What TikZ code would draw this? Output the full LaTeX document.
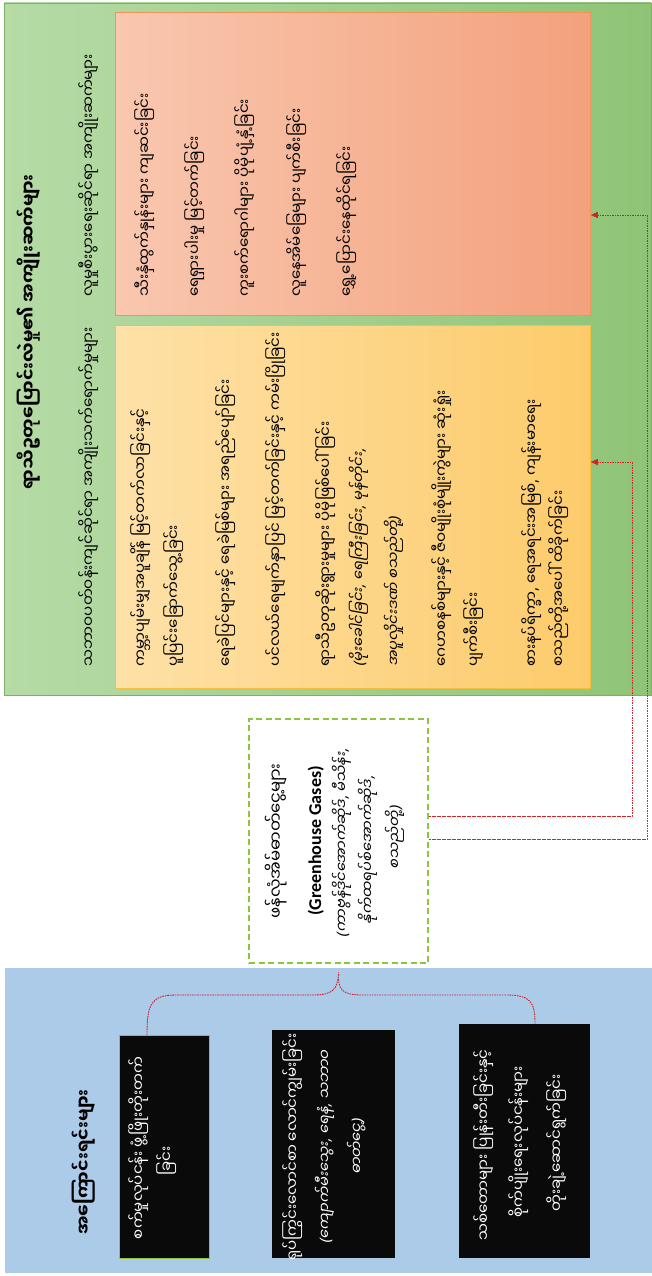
\documentclass[tikz,border=0pt]{standalone}
\usepackage{fontspec}
\newfontfamily\mmf[Script=Myanmar]{Noto Sans Myanmar UI}
\newfontfamily\mmif[Script=Myanmar,FakeSlant=0.18]{Noto Sans Myanmar UI}
\newfontfamily\latf{Carlito}
\newfontfamily\punf{Noto Sans}
\newfontfamily\punif[FakeSlant=0.18]{Noto Sans}
\newcommand{\iLP}{{\punif(}}
\newcommand{\iRP}{{\punif)}}
\newcommand{\iCM}{{\punif,}}
\usetikzlibrary{arrows.meta}
\definecolor{gpL}{RGB}{182,219,166}
\definecolor{gpR}{RGB}{143,196,118}
\definecolor{gpB}{RGB}{125,175,100}
\definecolor{orL}{RGB}{249,199,175}
\definecolor{orR}{RGB}{243,161,125}
\definecolor{orB}{RGB}{238,150,90}
\definecolor{yeL}{RGB}{254,225,168}
\definecolor{yeR}{RGB}{253,203,106}
\definecolor{yeB}{RGB}{246,190,60}
\definecolor{blP}{RGB}{171,203,233}
\definecolor{dgr}{RGB}{140,198,63}
\definecolor{rdl}{RGB}{210,35,42}
\definecolor{bxb}{RGB}{10,10,10}
\begin{document}
\begin{tikzpicture}[x=1pt,y=-1pt,
  mmbase/.style={font=\mmf\fontsize{15}{28}\selectfont, inner sep=0pt, rotate=90},
  mml/.style={mmbase, anchor=base west},
  mmc/.style={mmbase, anchor=base},
  mmil/.style={font=\mmif\fontsize{14.5}{28}\selectfont, inner sep=0pt, rotate=90, anchor=base west},
  mmic/.style={font=\mmif\fontsize{14.5}{28}\selectfont, inner sep=0pt, rotate=90, anchor=base},
  boldt/.style={font=\mmf\bfseries\fontsize{17.5}{28}\selectfont, inner sep=0pt, rotate=90, anchor=base},
  wt/.style={text=white},
  blackbox/.style={fill=bxb, draw=none, inner sep=0pt, anchor=north west},
  redline/.style={draw=rdl, line width=0.9pt, dash pattern=on 1.6pt off 0.9pt},
  tipend/.style={-{Triangle[length=7pt,width=6pt]}}
]
\useasboundingbox (0,0) rectangle (652,1276);
\fill[white] (0,0) rectangle (652,1276);

% green effects panel
\shade[left color=gpL, right color=gpR] (4,3) rectangle (651,695);
\draw[gpB, line width=0.6pt] (4,3) rectangle (651,695);

\node[boldt] (gtitle) at (35,332) {ရာသီဥတုပြောင်းလဲမှု၏ အကျိုးဆက်များ};
\node[mml] (sub1) at (94,297) {လူမှုစီးပွားရေးဆိုင်ရာ အကျိုးဆက်များ};
\node[mml] (sub2) at (94,667) {သဘာဝပတ်ဝန်းကျင်ဆိုင်ရာ အကျိုးသက်ရောက်မှုများ};

% orange box
\node[shade, left color=orL, right color=orR, draw=orB, line width=0.8pt,
      inner sep=0pt, minimum width=475pt, minimum height=303pt, anchor=north west] (org) at (115,12) {};
\node[mml] (o1) at (150,297) {သီးနှံထွက်နှုန်းများ ကျဆင်းခြင်း};
\node[mml] (o2) at (200,297) {ရေရှားပါးမှု မြင့်တက်ခြင်း};
\node[mml] (o3) at (250,297) {ကူးစက်ရောဂါများ ပိုမိုပျံ့နှံ့ခြင်း};
\node[mml] (o4) at (302,297) {လူနေအိမ်ခြေများ ပျက်စီးခြင်း};
\node[mml] (o5) at (352,297) {ရွှေ့ပြောင်းနေထိုင်ရခြင်း};

% yellow box
\node[shade, left color=yeL, right color=yeR, draw=yeB, line width=0.8pt,
      inner sep=0pt, minimum width=475pt, minimum height=363pt, anchor=north west] (yel) at (115,325) {};
\node[mml] (y1a) at (146,667) {ကမ္ဘာ့ပျမ်းမျှအပူချိန် မြင့်တက်လာခြင်းနှင့်};
\node[mml] (y1b) at (179,667) {ပူပြင်းခြောက်သွေ့ခြင်း};
\node[mml] (y2)  at (231,667) {ရေခဲပြင်များနှင့် ရေခဲမြစ်များ အရည်ပျော်ခြင်း};
\node[mml] (y3)  at (281,667) {ပင်လယ်ရေမျက်နှာပြင် မြင့်တက်ခြင်းနှင့် ကမ်းပြိုခြင်း};
\node[mml] (y4a) at (331,667) {ရာသီဥတုဆိုးရွားမှုများ ပိုမိုဖြစ်ပေါ်ခြင်း};
\node[mmil] (y4b) at (364,667) {\iLP မိုးခေါင်ခြင်း\iCM{} ရေကြီးခြင်း\iCM{} မုန်တိုင်း\iCM};
\node[mmil] (y4c) at (399,667) {အပူလှိုင်းဒဏ် စသည်တို့\iRP};
\node[mml] (y5a) at (447,667) {ဂေဟစနစ်များနှင့် ဇီဝမျိုးစုံမျိုးကွဲများ ဆုံးရှုံး};
\node[mml] (y5b) at (479,667) {ပျက်စီးခြင်း};
\node[mml] (y6a) at (537,667) {စားနပ်ရိက္ခာ{\punf,} ရေအရင်းအမြစ်{\punf,} ကျန်းမာရေး};
\node[mml] (y6b) at (564,667) {စသည်တို့အပေါ် ထိခိုက်ခြင်း};

% greenhouse gas box
\node[fill=white, draw=dgr, line width=2.4pt, dash pattern=on 6pt off 3.5pt,
      inner sep=0pt, minimum width=179pt, minimum height=244pt, anchor=north west] (ghg) at (248,718) {};
\node[font=\mmf\fontsize{16.5}{28}\selectfont, inner sep=0pt, rotate=90, anchor=base] (g1) at (282,841) {ဖန်လုံအိမ်ဓာတ်ငွေ့များ};
\node[font=\latf\bfseries\fontsize{18}{20}\selectfont, inner sep=0pt, rotate=90, anchor=base] (g2) at (321,841) {(Greenhouse Gases)};
\node[mmic] (g3) at (347,843) {\iLP ကာဗွန်ဒိုင်အောက်ဆိုဒ်\iCM{} မီသိန်း\iCM};
\node[mmic] (g4) at (373,850) {နိုက်ထရပ်စ်အောက်ဆိုဒ်\iCM};
\node[mmic] (g5) at (400,838) {စသည်တို့\iRP};

% blue causes panel
\fill[blP] (5,968) rectangle (652,1273);
\node[boldt] (btitle) at (90,1162) {အကြောင်းရင်းများ};

\node[blackbox, draw=dgr, line width=0.8pt, minimum width=90pt, minimum height=223pt] (b1) at (119,1035) {};
\node[mmc, wt] (b1a) at (144,1148) {စက်မှုလုပ်ငန်း ဖွံ့ဖြိုးတိုးတက်};
\node[mmc, wt] (b1b) at (172,1161) {ခြင်း};

\node[blackbox, minimum width=123pt, minimum height=228pt] (b2) at (272,1030) {};
\node[mmc, wt] (b2a) at (298,1147) {ရုပ်ကြွင်းလောင်စာ လောင်ကျွမ်းခြင်း};
\node[mmic, wt] (b2b) at (330,1147) {\iLP ကျောက်မီးသွေး\iCM{} ရေနံ\iCM{} သဘာဝ};
\node[mmic, wt] (b2c) at (362,1147) {ဓာတ်ငွေ့\iRP};

\node[blackbox, minimum width=131pt, minimum height=234pt] (b3) at (459,1024) {};
\node[mmc, wt] (b3a) at (489,1145) {သစ်တောများ ပြုန်းတီးခြင်းနှင့်};
\node[mmc, wt] (b3b) at (524,1142) {စိုက်ပျိုးရေးလုပ်ငန်းများ};
\node[mmc, wt] (b3c) at (562,1143) {တိုးချဲ့ဆောင်ရွက်ခြင်း};

% connectors to effects
\coordinate (c1) at (632,816);
\coordinate (c2) at (632,462);
\coordinate (c3) at (647,839);
\coordinate (c4) at (647,215);
\draw[redline, tipend] (ghg.east |- c1) -- (c1) -- (c2) -- (c2 -| yel.east);
\draw[redline, tipend] (ghg.east |- c3) -- (c3) -- (c4) -- (c4 -| org.east);

% brace from causes
\coordinate (bL) at (147,1000);
\coordinate (bR) at (535,1000);
\coordinate (bT) at ([yshift=-8pt]ghg.south);
\draw[redline] (bL |- b1.north) .. controls (147,1004) and (151,995) .. (176,995)
  -- (312,995) .. controls (333,995) and (337.5,990) .. (bT)
  .. controls (337.5,990) and (342,995) .. (363,995)
  -- (506,995) .. controls (531,995) and (535,1002) .. (bR |- b3.north);
\end{tikzpicture}
\end{document}
